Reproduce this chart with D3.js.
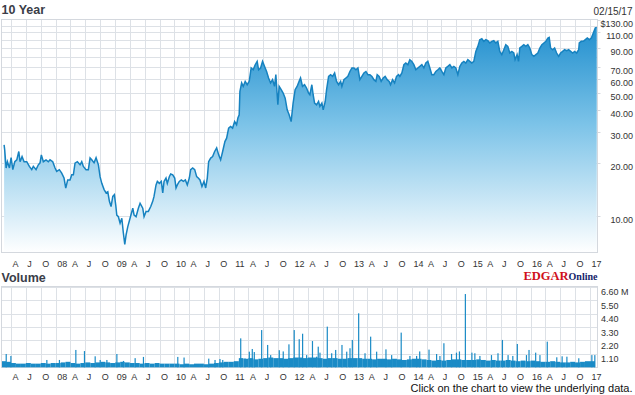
<!DOCTYPE html>
<html>
<head>
<meta charset="utf-8">
<script src="https://d3js.org/d3.v7.min.js"></script>
<style>
  body { margin: 0; background: #fff; }
  svg { display: block; }
  text { font-family: "Liberation Sans", Arial, sans-serif; }
</style>
</head>
<body>
<div id="chart"></div>
<script>
// price: [decimal year, close]
var priceData = [
  [2007.13, 25.3], [2007.14, 23.7], [2007.164, 18.7], [2007.186, 20.3], [2007.22, 18.7], [2007.248, 21.4],
  [2007.277, 18.3], [2007.31, 20.3], [2007.344, 20.8], [2007.378, 23.2], [2007.399, 20.3], [2007.433, 21.7],
  [2007.467, 20.3], [2007.512, 20.3], [2007.556, 19.1], [2007.596, 18.3], [2007.623, 19.1], [2007.669, 18.3],
  [2007.707, 19.5], [2007.736, 20.0], [2007.758, 22.2], [2007.792, 20.3], [2007.837, 20.8], [2007.876, 20.3],
  [2007.904, 20.8], [2007.95, 20.3], [2007.989, 18.7], [2008.017, 17.9], [2008.061, 18.3], [2008.101, 17.5],
  [2008.14, 16.4], [2008.169, 14.4], [2008.202, 16.0], [2008.241, 16.0], [2008.27, 17.1], [2008.297, 17.1],
  [2008.325, 19.9], [2008.364, 20.3], [2008.41, 19.5], [2008.438, 20.3], [2008.465, 19.1], [2008.51, 18.3],
  [2008.549, 18.3], [2008.578, 21.3], [2008.606, 20.8], [2008.645, 20.0], [2008.679, 21.4], [2008.718, 19.5],
  [2008.746, 16.7], [2008.775, 15.3], [2008.814, 14.1], [2008.847, 13.5], [2008.876, 13.7], [2008.903, 12.1],
  [2008.931, 11.3], [2008.96, 12.9], [2008.987, 13.2], [2009.01, 11.5], [2009.027, 10.1], [2009.054, 9.9],
  [2009.083, 9.1], [2009.112, 9.7], [2009.138, 8.0], [2009.162, 6.9], [2009.184, 7.8], [2009.213, 8.7],
  [2009.251, 9.7], [2009.297, 11.06], [2009.319, 10.1], [2009.352, 9.9], [2009.391, 11.06], [2009.42, 11.8],
  [2009.465, 11.06], [2009.487, 9.9], [2009.521, 10.6], [2009.559, 10.6], [2009.6, 11.3], [2009.633, 12.1],
  [2009.655, 12.9], [2009.689, 15.0], [2009.711, 15.7], [2009.745, 15.3], [2009.778, 15.7], [2009.802, 13.5],
  [2009.824, 15.7], [2009.857, 16.4], [2009.879, 15.3], [2009.913, 16.7], [2009.936, 17.3], [2009.97, 17.1],
  [2010.004, 16.4], [2010.026, 14.4], [2010.048, 15.0], [2010.081, 15.7], [2010.115, 16.0], [2010.149, 15.7],
  [2010.183, 16.0], [2010.216, 15.0], [2010.25, 16.4], [2010.273, 18.3], [2010.307, 18.7], [2010.341, 18.3],
  [2010.374, 16.7], [2010.401, 16.4], [2010.43, 16.0], [2010.463, 14.7], [2010.497, 15.7], [2010.526, 14.4],
  [2010.553, 16.4], [2010.576, 20.3], [2010.61, 21.3], [2010.643, 21.7], [2010.677, 23.2], [2010.711, 24.3],
  [2010.745, 22.2], [2010.778, 20.8], [2010.812, 23.2], [2010.85, 26.4], [2010.879, 27.6], [2010.913, 31.5],
  [2010.946, 32.2], [2010.98, 31.5], [2011.014, 34.3], [2011.047, 32.9], [2011.069, 35.9], [2011.091, 37.5],
  [2011.103, 50.8], [2011.132, 56.8], [2011.159, 54.3], [2011.192, 58.0], [2011.226, 55.5], [2011.26, 58.0],
  [2011.293, 69.1], [2011.327, 67.5], [2011.361, 72.1], [2011.394, 75.3], [2011.418, 67.5], [2011.452, 69.1],
  [2011.485, 75.3], [2011.519, 70.5], [2011.553, 66.0], [2011.586, 60.6], [2011.62, 56.8], [2011.654, 59.3],
  [2011.687, 54.3], [2011.709, 63.3], [2011.743, 42.7], [2011.765, 54.3], [2011.799, 52.0], [2011.832, 49.8],
  [2011.866, 46.6], [2011.9, 40.0], [2011.933, 37.5], [2011.967, 34.3], [2012.0, 43.7], [2012.034, 52.0],
  [2012.067, 54.3], [2012.101, 58.0], [2012.125, 60.6], [2012.158, 54.3], [2012.192, 55.5], [2012.226, 53.2],
  [2012.26, 49.8], [2012.282, 48.7], [2012.315, 55.5], [2012.337, 48.7], [2012.361, 43.7], [2012.394, 42.7],
  [2012.428, 44.6], [2012.45, 41.8], [2012.484, 43.7], [2012.506, 40.0], [2012.54, 44.6], [2012.563, 52.0],
  [2012.597, 61.9], [2012.63, 63.3], [2012.664, 61.9], [2012.698, 64.7], [2012.731, 58.0], [2012.765, 55.5],
  [2012.799, 58.0], [2012.82, 54.3], [2012.854, 59.3], [2012.888, 60.6], [2012.921, 61.9], [2012.955, 66.0],
  [2012.989, 69.1], [2013.023, 69.1], [2013.056, 67.5], [2013.09, 69.1], [2013.123, 59.3], [2013.157, 61.9],
  [2013.191, 64.7], [2013.225, 66.0], [2013.258, 63.3], [2013.292, 63.3], [2013.326, 61.9], [2013.359, 59.3],
  [2013.393, 58.0], [2013.415, 63.3], [2013.448, 61.9], [2013.482, 58.0], [2013.516, 60.6], [2013.549, 61.9],
  [2013.583, 59.3], [2013.617, 58.0], [2013.64, 55.5], [2013.674, 59.3], [2013.708, 56.8], [2013.741, 61.9],
  [2013.775, 63.3], [2013.797, 61.9], [2013.831, 64.7], [2013.865, 72.1], [2013.898, 73.7], [2013.932, 72.1],
  [2013.965, 77.0], [2013.999, 75.3], [2014.033, 72.1], [2014.067, 67.5], [2014.1, 69.1], [2014.134, 70.5],
  [2014.168, 72.1], [2014.202, 69.1], [2014.235, 73.7], [2014.269, 75.3], [2014.303, 69.1], [2014.336, 63.3],
  [2014.37, 63.3], [2014.404, 66.0], [2014.438, 67.5], [2014.471, 69.1], [2014.505, 66.0], [2014.539, 63.3],
  [2014.572, 69.1], [2014.606, 70.5], [2014.64, 72.1], [2014.674, 69.1], [2014.707, 70.5], [2014.741, 69.1],
  [2014.775, 63.3], [2014.808, 70.5], [2014.842, 73.7], [2014.876, 75.3], [2014.909, 73.7], [2014.943, 77.0],
  [2014.977, 75.3], [2015.01, 73.7], [2015.044, 75.3], [2015.078, 85.8], [2015.112, 91.6], [2015.145, 100],
  [2015.179, 101.3], [2015.213, 97.8], [2015.246, 100], [2015.28, 98.7], [2015.314, 95.8], [2015.347, 97.8],
  [2015.381, 98.7], [2015.415, 95.8], [2015.449, 97.8], [2015.482, 85.8], [2015.516, 82.2], [2015.55, 87.7],
  [2015.583, 93.7], [2015.617, 91.6], [2015.651, 84.0], [2015.685, 85.8], [2015.718, 84.0], [2015.74, 77.0],
  [2015.774, 82.2], [2015.798, 75.3], [2015.82, 89.7], [2015.854, 91.6], [2015.887, 93.7], [2015.921, 91.6],
  [2015.955, 93.7], [2015.988, 89.7], [2016.022, 82.2], [2016.056, 80.4], [2016.09, 82.2], [2016.123, 84.0],
  [2016.157, 89.7], [2016.191, 93.7], [2016.225, 95.8], [2016.258, 97.8], [2016.292, 102.2], [2016.314, 103.1],
  [2016.338, 89.7], [2016.372, 87.7], [2016.405, 89.7], [2016.439, 84.0], [2016.473, 80.4], [2016.506, 84.0],
  [2016.54, 85.8], [2016.574, 87.7], [2016.608, 86.6], [2016.641, 87.7], [2016.675, 85.8], [2016.709, 84.0],
  [2016.742, 85.8], [2016.776, 84.0], [2016.81, 87.7], [2016.82, 95.8], [2016.854, 97.8], [2016.888, 97.8],
  [2016.922, 100], [2016.955, 102.2], [2016.989, 100], [2017.023, 102.2], [2017.056, 109.2], [2017.09, 116.6],
  [2017.114, 117.5]
];

// monthly typical volume (millions), Feb 2007 .. Jan 2017
var volumeMonths = [
  0.5, 0.45, 0.35, 0.3, 0.3, 0.35, 0.3, 0.3, 0.35, 0.3, 0.35,
  0.35, 0.4, 0.45, 0.35, 0.3, 0.35, 0.4, 0.35, 0.4, 0.45, 0.4, 0.35,
  0.4, 0.45, 0.4, 0.35, 0.35, 0.3, 0.35, 0.3, 0.35, 0.3, 0.3, 0.3,
  0.3, 0.25, 0.3, 0.25, 0.3, 0.3, 0.25, 0.3, 0.35, 0.4, 0.45, 0.45,
  0.5, 0.75, 0.7, 0.75, 0.65, 0.7, 0.75, 0.8, 0.75, 0.75, 0.7, 0.75,
  0.8, 0.8, 0.75, 0.8, 0.8, 0.75, 0.7, 0.75, 0.75, 0.7, 0.7, 0.75,
  0.75, 0.75, 0.7, 0.7, 0.65, 0.7, 0.7, 0.65, 0.7, 0.65, 0.6, 0.65,
  0.7, 0.7, 0.65, 0.6, 0.55, 0.6, 0.55, 0.6, 0.65, 0.65, 0.6, 0.6,
  0.6, 0.65, 0.6, 0.55, 0.6, 0.55, 0.55, 0.6, 0.55, 0.5, 0.55, 0.5,
  0.55, 0.5, 0.45, 0.45, 0.5, 0.45, 0.4, 0.4, 0.45, 0.4, 0.45, 0.5,
  0.5
];

// single-day volume spikes: [decimal year, millions]
var volumeSpikes = [
  [2007.164, 1.09], [2007.243, 0.93], [2007.849, 0.6], [2008.061, 0.6], [2008.337, 1.42],
  [2008.482, 1.33], [2008.662, 0.9], [2008.746, 0.6], [2008.859, 0.6], [2009.027, 1.09],
  [2009.138, 0.52], [2009.335, 0.75], [2009.475, 0.85], [2010.054, 0.85], [2010.16, 0.8],
  [2010.576, 0.71], [2010.682, 0.6], [2010.765, 0.68], [2010.812, 0.6], [2011.115, 2.37],
  [2011.187, 0.73], [2011.26, 1.28], [2011.31, 1.5], [2011.344, 1.25], [2011.468, 3.05],
  [2011.569, 1.83], [2011.62, 1.0], [2011.765, 1.4], [2011.832, 1.3], [2011.928, 1.88],
  [2012.017, 3.05], [2012.101, 2.3], [2012.158, 2.75], [2012.226, 1.0], [2012.324, 2.15],
  [2012.394, 0.87], [2012.421, 1.69], [2012.45, 1.2], [2012.573, 3.33], [2012.647, 1.15],
  [2012.714, 1.42], [2012.82, 1.83], [2012.9, 1.28], [2012.955, 1.56], [2012.994, 2.24],
  [2013.101, 4.42], [2013.208, 1.15], [2013.303, 2.51], [2013.404, 1.28], [2013.561, 1.47],
  [2013.657, 1.0], [2013.818, 2.84], [2013.965, 0.93], [2014.078, 0.93], [2014.13, 1.3],
  [2014.287, 1.45], [2014.415, 1.09], [2014.471, 0.93], [2014.538, 1.97], [2014.667, 1.09],
  [2014.75, 1.2], [2014.8, 1.3], [2014.9, 6.0], [2015.01, 1.2], [2015.06, 1.15],
  [2015.145, 0.93], [2015.34, 1.0], [2015.45, 1.15], [2015.525, 2.24], [2015.62, 1.0],
  [2015.7, 0.93], [2015.776, 1.91], [2015.93, 1.0], [2015.973, 1.42], [2016.085, 1.2],
  [2016.157, 1.0], [2016.28, 2.1], [2016.44, 0.82], [2016.53, 0.9], [2016.61, 0.87],
  [2016.81, 0.74], [2017.03, 1.0], [2017.08, 1.0]
];

var priceLabels = [130, 110, 90, 70, 60, 50, 40, 30, 20, 10];
var priceGrid = [10, 20, 30, 40, 50, 60, 70, 80, 90, 100, 110, 120];
var volumeTicks = [1.1, 2.2, 3.3, 4.4, 5.5, 6.6];
var startDate = new Date(2007, 1, 15);
var endDate = new Date(2017, 1, 15);

function yearToDate(t) {
  var yr = Math.floor(t);
  var a = new Date(yr, 0, 1), b = new Date(yr + 1, 0, 1);
  return new Date(+a + (t - yr) * (b - a));
}

var width = 635, height = 395;
var svg = d3.select('#chart').append('svg').attr('width', width).attr('height', height);

var x = d3.scaleTime().domain([startDate, endDate]).range([3.7, 597.3]);
var y = d3.scaleLog().domain([6.16, 131]).range([253, 19]);
var yv = d3.scaleLinear().domain([0, 6.6]).range([367.3, 286.7]);

var gridColor = '#dde1e6';
var quarters = d3.timeMonth.every(3).range(new Date(2007, 3, 1), endDate);

function quarterLabel(d) {
  return d.getMonth() === 0 ? d3.timeFormat('%y')(d) : 'AJO'.charAt(d.getMonth() / 3 - 1);
}

// gradient for price area
var defs = svg.append('defs');
var grad = defs.append('linearGradient').attr('id', 'fillGrad')
  .attr('gradientUnits', 'userSpaceOnUse').attr('x1', 0).attr('y1', 19).attr('x2', 0).attr('y2', 253);
grad.append('stop').attr('offset', 0).attr('stop-color', '#1a8bcc');
grad.append('stop').attr('offset', 0.45).attr('stop-color', '#7cc3e8');
grad.append('stop').attr('offset', 1).attr('stop-color', '#ffffff');

// ---- price panel
var pricePanel = svg.append('g');
pricePanel.selectAll('.vgrid').data(quarters).enter().append('line')
  .attr('x1', function (d) { return Math.round(x(d)) + 0.5; })
  .attr('x2', function (d) { return Math.round(x(d)) + 0.5; })
  .attr('y1', 19).attr('y2', 253)
  .attr('stroke', gridColor);
pricePanel.selectAll('.hgrid').data(priceGrid).enter().append('line')
  .attr('x1', 1.5).attr('x2', 597.5)
  .attr('y1', function (d) { return Math.round(y(d)) + 0.5; })
  .attr('y2', function (d) { return Math.round(y(d)) + 0.5; })
  .attr('stroke', gridColor);

var pts = priceData.map(function (d) { return [yearToDate(d[0]), d[1]]; });
var area = d3.area()
  .x(function (d) { return x(d[0]); })
  .y0(253)
  .y1(function (d) { return y(d[1]); });
var line = d3.line()
  .x(function (d) { return x(d[0]); })
  .y(function (d) { return y(d[1]); });

pricePanel.append('path').datum(pts).attr('d', area).attr('fill', 'url(#fillGrad)');
pricePanel.append('path').datum(pts).attr('d', line)
  .attr('fill', 'none').attr('stroke', '#1682c0').attr('stroke-width', 1.5);

pricePanel.append('rect').attr('x', 1.5).attr('y', 19.5).attr('width', 596).attr('height', 233)
  .attr('fill', 'none').attr('stroke', '#d4d8de');

pricePanel.selectAll('.ptick').data(priceLabels).enter().append('line')
  .attr('x1', 597.5).attr('x2', 600.5)
  .attr('y1', function (d) { return Math.round(y(d)) + 0.5; })
  .attr('y2', function (d) { return Math.round(y(d)) + 0.5; })
  .attr('stroke', '#d4d8de');
pricePanel.selectAll('.plabel').data(priceLabels).enter().append('text')
  .attr('x', 633).attr('y', function (d) { return y(d) + 7; })
  .attr('text-anchor', 'end').attr('font-size', 9).attr('fill', '#333')
  .text(function (d, i) { return (i === 0 ? '$' : '') + d3.format('.2f')(d); });

pricePanel.selectAll('.xlabel').data(quarters).enter().append('text')
  .attr('x', function (d) { return x(d) + 1.5; }).attr('y', 266.5)
  .attr('font-size', 9).attr('fill', '#333')
  .text(quarterLabel);

svg.append('text').attr('x', 1.5).attr('y', 14).attr('font-size', 12.5)
  .attr('font-weight', 'bold').attr('fill', '#3a3d48').text('10 Year');
svg.append('text').attr('x', 632.5).attr('y', 15).attr('text-anchor', 'end')
  .attr('font-size', 10).attr('fill', '#333').text('02/15/17');

// ---- volume panel
var volPanel = svg.append('g');
volPanel.selectAll('.vgrid').data(quarters).enter().append('line')
  .attr('x1', function (d) { return Math.round(x(d)) + 0.5; })
  .attr('x2', function (d) { return Math.round(x(d)) + 0.5; })
  .attr('y1', 286.7).attr('y2', 367.3)
  .attr('stroke', gridColor);
volPanel.selectAll('.hgrid').data(volumeTicks).enter().append('line')
  .attr('x1', 1.5).attr('x2', 597.5)
  .attr('y1', function (d) { return Math.round(yv(d)) + 0.5; })
  .attr('y2', function (d) { return Math.round(yv(d)) + 0.5; })
  .attr('stroke', gridColor);
volPanel.append('rect').attr('x', 1.5).attr('y', 286.5).attr('width', 596).attr('height', 81)
  .attr('fill', 'none').attr('stroke', '#d4d8de');

var months = d3.timeMonth.range(new Date(2007, 1, 1), new Date(2017, 1, 1));
volPanel.selectAll('.vbase').data(months).enter().append('rect')
  .attr('x', function (d) { return Math.max(x(d), 2); })
  .attr('width', function (d) { return x(d3.timeMonth.offset(d, 1)) - Math.max(x(d), 2); })
  .attr('y', function (d, i) { return yv(volumeMonths[i]); })
  .attr('height', function (d, i) { return yv(0) - yv(volumeMonths[i]); })
  .attr('fill', '#1a8bc6');
volPanel.selectAll('.vspike').data(volumeSpikes).enter().append('rect')
  .attr('x', function (d) { return x(yearToDate(d[0])) - 0.5; })
  .attr('width', 1.2)
  .attr('y', function (d) { return yv(d[1]); })
  .attr('height', function (d) { return yv(0) - yv(d[1]); })
  .attr('fill', '#1a8bc6');

volPanel.selectAll('.vlabel').data(volumeTicks).enter().append('text')
  .attr('x', 601).attr('y', function (d) { return yv(d) + 8.5; })
  .attr('font-size', 9).attr('fill', '#333')
  .text(function (d, i) { return d3.format('.2f')(d) + (i === volumeTicks.length - 1 ? ' M' : ''); });

volPanel.selectAll('.xlabel').data(quarters).enter().append('text')
  .attr('x', function (d) { return x(d) + 1.5; }).attr('y', 380)
  .attr('font-size', 9).attr('fill', '#333')
  .text(quarterLabel);

svg.append('text').attr('x', 1.5).attr('y', 281.5).attr('font-size', 12.5)
  .attr('font-weight', 'bold').attr('fill', '#3a3d48').text('Volume');

// EDGAR Online mark
var logo = svg.append('text').attr('x', 597.5).attr('y', 279.5).attr('text-anchor', 'end')
  .style('font-family', '"Liberation Serif", serif').attr('font-weight', 'bold');
logo.append('tspan').attr('font-size', 12.5).attr('fill', '#d0101c').text('EDGAR');
logo.append('tspan').attr('font-size', 10).attr('fill', '#14246a').text('Online');

svg.append('text').attr('x', 632.5).attr('y', 392).attr('text-anchor', 'end')
  .attr('font-size', 11).attr('fill', '#111').text('Click on the chart to view the underlying data.');
</script>
</body>
</html>
